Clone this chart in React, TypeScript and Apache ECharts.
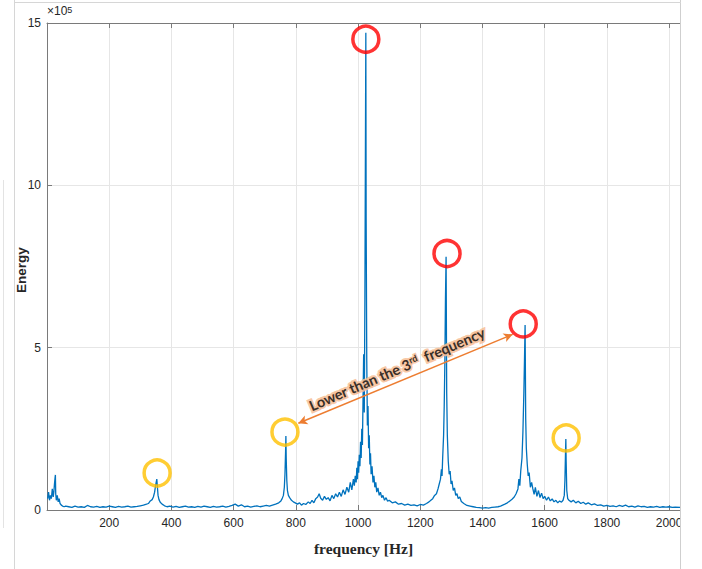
import React, { useEffect, useRef } from "react";
import * as echarts from "echarts";

// frequency axis (Hz) and energy (in units of 1e5)
const freqHz = [
  2, 5, 8, 11, 14, 17, 20, 22, 24, 26, 27, 28, 30, 33, 36, 39, 42, 46, 50, 55, 60,
  70, 80, 90, 100, 110, 120, 130, 140, 150, 160, 170, 180, 190, 200, 210, 220, 230, 240, 250, 260, 270, 280, 290, 300, 310, 320,
  326, 332, 338, 342, 346, 349, 351, 353, 355, 357, 360, 364, 370, 378, 386,
  395, 405, 415, 425, 435, 445, 455, 465, 475, 485, 495, 505, 515, 525, 535, 545, 555, 565, 575, 585, 595, 605, 615, 625, 635, 645, 655, 665, 675, 685, 695, 705, 715, 725, 735,
  745, 752, 756, 760, 763, 765, 767, 768, 769, 771, 773, 776, 780, 786, 792, 798,
  805, 812, 818, 825, 832, 840, 846, 852, 858, 864, 870, 875, 880, 886, 892, 898, 904, 910, 916, 922, 928, 934, 940, 946, 952, 958, 964, 970, 975, 980, 985,
  988, 991, 994, 996, 998, 1000, 1002, 1004, 1006, 1008, 1010, 1012, 1014, 1016, 1018, 1020, 1022, 1024, 1025, 1026, 1028, 1030, 1032, 1034, 1036, 1038, 1040, 1042, 1045, 1048, 1051, 1054, 1057, 1060, 1064, 1068, 1072, 1076, 1080, 1085, 1090, 1095, 1100,
  1110, 1120, 1130, 1140, 1150, 1160, 1170, 1180, 1190, 1200, 1210, 1220, 1228, 1234,
  1240, 1246, 1252, 1257, 1261, 1265, 1268, 1270, 1272, 1275, 1277, 1279, 1281, 1283, 1285, 1287, 1290, 1293, 1296, 1299, 1302, 1306, 1310, 1314, 1318, 1322, 1327, 1332, 1340, 1350, 1360, 1370,
  1380, 1390, 1400, 1410, 1420, 1430, 1440, 1450, 1458, 1465,
  1472, 1480, 1488, 1495, 1502, 1508, 1514, 1517, 1520, 1523, 1527, 1530, 1533, 1535, 1537, 1539, 1541, 1544, 1547, 1550, 1554, 1558, 1562, 1566, 1570, 1575, 1580, 1585, 1590, 1595, 1600, 1606, 1612, 1618, 1624, 1630, 1636, 1642, 1648, 1654, 1659,
  1663, 1665, 1667, 1668, 1669, 1671, 1674, 1678,
  1685, 1692, 1700, 1708, 1716, 1724, 1732, 1740, 1750, 1760, 1770, 1780, 1790, 1800, 1810, 1820, 1830, 1840, 1850, 1860, 1870, 1880, 1890, 1900, 1910, 1920, 1930, 1940, 1950, 1960, 1970, 1980, 1990, 2000, 2010, 2020, 2035,
];

const energyE5 = [
  0.35, 0.55, 0.3, 0.45, 0.35, 0.65, 0.4, 0.55, 0.8, 1.0, 1.08, 0.5, 0.3, 0.45, 0.25, 0.35, 0.2, 0.15, 0.12, 0.1, 0.12,
  0.1, 0.08, 0.12, 0.09, 0.1, 0.08, 0.14, 0.1, 0.09, 0.11, 0.08, 0.1, 0.09, 0.12, 0.1, 0.08, 0.11, 0.09, 0.1, 0.12, 0.09, 0.1, 0.11, 0.13, 0.15, 0.18,
  0.2, 0.28, 0.32, 0.4, 0.55, 0.75, 0.85, 0.95, 0.7, 0.45, 0.32, 0.24, 0.18, 0.13, 0.1,
  0.12, 0.09, 0.11, 0.08, 0.1, 0.12, 0.09, 0.1, 0.08, 0.11, 0.09, 0.12, 0.1, 0.08, 0.11, 0.09, 0.1, 0.12, 0.09, 0.11, 0.14, 0.18, 0.12, 0.16, 0.1, 0.12, 0.09, 0.11, 0.13, 0.1, 0.12, 0.14, 0.12, 0.15, 0.18,
  0.22, 0.28, 0.35, 0.45, 0.7, 1.1, 1.8, 2.28, 1.6, 0.9, 0.6, 0.45, 0.38, 0.3, 0.25, 0.22,
  0.18, 0.22, 0.15, 0.2, 0.17, 0.25, 0.2, 0.3, 0.22, 0.35, 0.4, 0.5, 0.36, 0.3, 0.42, 0.33, 0.38, 0.28, 0.45, 0.35, 0.5, 0.4, 0.55, 0.42, 0.62, 0.48, 0.7, 0.55, 0.85, 0.62, 0.95,
  0.75, 1.05, 0.85, 1.3, 0.95, 1.5, 1.15, 1.7, 1.35, 2.1, 1.6, 2.5, 2.0, 3.4, 4.8, 3.0, 6.5, 12.0, 14.7, 9.0, 4.6, 2.6, 3.2, 1.9, 2.3, 1.4, 1.75, 1.1, 1.35, 0.85, 1.05, 0.7, 0.85, 0.55, 0.68, 0.45, 0.55, 0.38, 0.45, 0.3, 0.38, 0.27, 0.3,
  0.22, 0.25, 0.18, 0.2, 0.15, 0.18, 0.14, 0.16, 0.13, 0.17, 0.15, 0.2, 0.25, 0.3,
  0.35, 0.45, 0.5, 0.65, 0.8, 0.95, 1.25, 1.05, 1.6, 2.3, 3.2, 4.5, 6.5, 7.8, 3.6, 2.3, 1.5, 1.1, 1.2, 0.8, 0.9, 0.6, 0.68, 0.45, 0.5, 0.35, 0.4, 0.26, 0.2, 0.14, 0.12, 0.1,
  0.08, 0.07, 0.06, 0.07, 0.06, 0.08, 0.09, 0.1, 0.12, 0.15,
  0.18, 0.22, 0.28, 0.33, 0.4, 0.5, 0.65, 0.95, 0.75, 1.2, 1.6, 2.4, 3.6, 4.6, 5.7, 2.8, 1.9, 1.4, 1.05, 1.15, 0.7, 0.85, 0.65, 0.48, 0.7, 0.42, 0.6, 0.38, 0.52, 0.35, 0.42, 0.3, 0.4, 0.28, 0.34, 0.25, 0.3, 0.22, 0.28, 0.24, 0.3,
  0.45, 0.9, 1.8, 2.19, 1.5, 0.6, 0.35, 0.3,
  0.25, 0.3, 0.22, 0.27, 0.2, 0.24, 0.18, 0.22, 0.16, 0.19, 0.14, 0.16, 0.12, 0.14, 0.11, 0.13, 0.1, 0.14, 0.11, 0.15, 0.1, 0.12, 0.09, 0.13, 0.1, 0.11, 0.08, 0.1, 0.09, 0.11, 0.08, 0.1, 0.09, 0.1, 0.08, 0.09, 0.08,
];

// highlighted peaks (circles)
const redFreq = [1025, 1286, 1531];
const redEnergy = [14.5, 7.9, 5.73];
const goldFreq = [354, 765, 1669];
const goldEnergy = [1.14, 2.4, 2.22];

// arrow end points [freq, energy]
const arrowStart = [808, 2.67];
const arrowEnd = [1497, 5.41];

const xTickValues = [200, 400, 600, 800, 1000, 1200, 1400, 1600, 1800, 2000];
const yTickValues = [0, 5, 10, 15];

export default function App() {
  const ref = useRef<HTMLDivElement>(null);
  useEffect(() => {
    if (!ref.current) return;
    const chart = echarts.init(ref.current, null, { renderer: "svg" });
    const axisGray = "#7a7a7a";
    const labelColor = "#262626";
    const tickFont = "Liberation Sans";
    const lineData = freqHz.map((f, i) => [f, energyE5[i]]);
    chart.setOption({
      animation: false,
      backgroundColor: "#ffffff",
      grid: { left: 47, top: 23, right: 22, bottom: 59, containLabel: false },
      xAxis: [
        {
          type: "value",
          min: 0,
          max: 2035,
          interval: 200,
          position: "bottom",
          axisLine: { show: true, onZero: false, lineStyle: { color: axisGray, width: 1 } },
          axisTick: { show: true, inside: true, length: 5, lineStyle: { color: axisGray } },
          axisLabel: {
            color: labelColor,
            fontSize: 12,
            fontFamily: tickFont,
            margin: 7,
            formatter: (v: number) => (xTickValues.indexOf(v) >= 0 ? String(v) : ""),
          },
          splitLine: { show: true, lineStyle: { color: "#e6e6e6", width: 1 } },
          name: "frequency [Hz]",
          nameLocation: "middle",
          nameGap: 30,
          nameTextStyle: { fontFamily: "Liberation Serif", fontWeight: "bold", fontSize: 15.5, color: "#262626" },
        },
        {
          type: "value",
          min: 0,
          max: 2035,
          interval: 200,
          position: "top",
          axisLine: { show: true, onZero: false, lineStyle: { color: axisGray, width: 1 } },
          axisTick: { show: true, inside: true, length: 5, lineStyle: { color: axisGray } },
          axisLabel: { show: false },
          splitLine: { show: false },
        },
      ],
      yAxis: {
        type: "value",
        min: 0,
        max: 15,
        interval: 5,
        axisLine: { show: true, onZero: false, lineStyle: { color: axisGray, width: 1 } },
        axisTick: { show: true, inside: true, length: 5, lineStyle: { color: axisGray } },
        axisLabel: {
          color: labelColor,
          fontSize: 12,
          fontFamily: tickFont,
          margin: 6,
          formatter: (v: number) => (yTickValues.indexOf(v) >= 0 ? String(v) : ""),
        },
        splitLine: { show: true, lineStyle: { color: "#e6e6e6", width: 1 } },
      },
      series: [
        {
          type: "line",
          data: lineData,
          showSymbol: false,
          symbol: "none",
          lineStyle: { color: "#0072BD", width: 1.3 },
          z: 3,
        },
        {
          type: "scatter",
          data: redFreq.map((f, i) => [f, redEnergy[i]]),
          symbol: "circle",
          symbolSize: 26,
          itemStyle: { color: "rgba(0,0,0,0)", borderColor: "#FF0000", borderWidth: 3.5 },
          z: 5,
          silent: true,
        },
        {
          type: "scatter",
          data: goldFreq.map((f, i) => [f, goldEnergy[i]]),
          symbol: "circle",
          symbolSize: 26,
          itemStyle: { color: "rgba(0,0,0,0)", borderColor: "#FFC000", borderWidth: 3.5 },
          z: 5,
          silent: true,
          markLine: {
            silent: true,
            symbol: ["arrow", "arrow"],
            symbolSize: [7, 9],
            label: { show: false },
            lineStyle: { color: "#ED7D31", width: 1.5, type: "solid" },
            data: [[{ coord: arrowStart }, { coord: arrowEnd }]],
          },
        },
      ],
      graphic: [
        {
          type: "text",
          x: 21,
          y: 270,
          rotation: Math.PI / 2,
          style: {
            text: "Energy",
            align: "center",
            verticalAlign: "middle",
            fontFamily: "Liberation Sans",
            fontWeight: "bold",
            fontSize: 13.5,
            fill: "#262626",
          },
          z: 50,
        },
        {
          type: "text",
          left: 47,
          top: 5,
          style: {
            text: "{a|×10}{s|5}",
            rich: {
              a: { fontFamily: tickFont, fontSize: 12, fill: labelColor, verticalAlign: "bottom" },
              s: { fontFamily: tickFont, fontSize: 9, fill: labelColor, verticalAlign: "top" },
            },
          },
          z: 50,
        },
        {
          type: "text",
          x: 397,
          y: 369,
          rotation: 0.405,
          style: {
            text: "{t|Lower than the 3}{s|rd}{t|  frequency}",
            align: "center",
            verticalAlign: "middle",
            rich: {
              t: {
                fontFamily: "Lato",
                fontWeight: "bold",
                fontSize: 14.5,
                fill: "#3a2f28",
                stroke: "rgba(247,190,150,0.85)",
                lineWidth: 4,
                verticalAlign: "bottom",
              },
              s: {
                fontFamily: "Lato",
                fontWeight: "bold",
                fontSize: 9,
                fill: "#3a2f28",
                stroke: "rgba(247,190,150,0.85)",
                lineWidth: 3,
                verticalAlign: "top",
              },
            },
          },
          z: 60,
        },
        // cropped right edge of the screenshot
        { type: "rect", shape: { x: 681, y: 0, width: 30, height: 569 }, style: { fill: "#ffffff" }, z: 90 },
        { type: "line", shape: { x1: 680.5, y1: 0, x2: 680.5, y2: 569 }, style: { stroke: "#cfcfcf", lineWidth: 1 }, z: 91 },
        { type: "line", shape: { x1: 14.5, y1: 0, x2: 14.5, y2: 569 }, style: { stroke: "#d6d6d6", lineWidth: 1 }, z: 91 },
        { type: "line", shape: { x1: 14, y1: 2.5, x2: 681, y2: 2.5 }, style: { stroke: "#d6d6d6", lineWidth: 1 }, z: 91 },
        { type: "line", shape: { x1: 3.5, y1: 180, x2: 3.5, y2: 528 }, style: { stroke: "#e3e3e3", lineWidth: 1 }, z: 91 },
      ],
    });
    return () => chart.dispose();
  }, []);
  return (
    <div
      ref={ref}
      style={{ position: "fixed", left: 0, top: 0, width: 702, height: 569, background: "#fff" }}
    />
  );
}
